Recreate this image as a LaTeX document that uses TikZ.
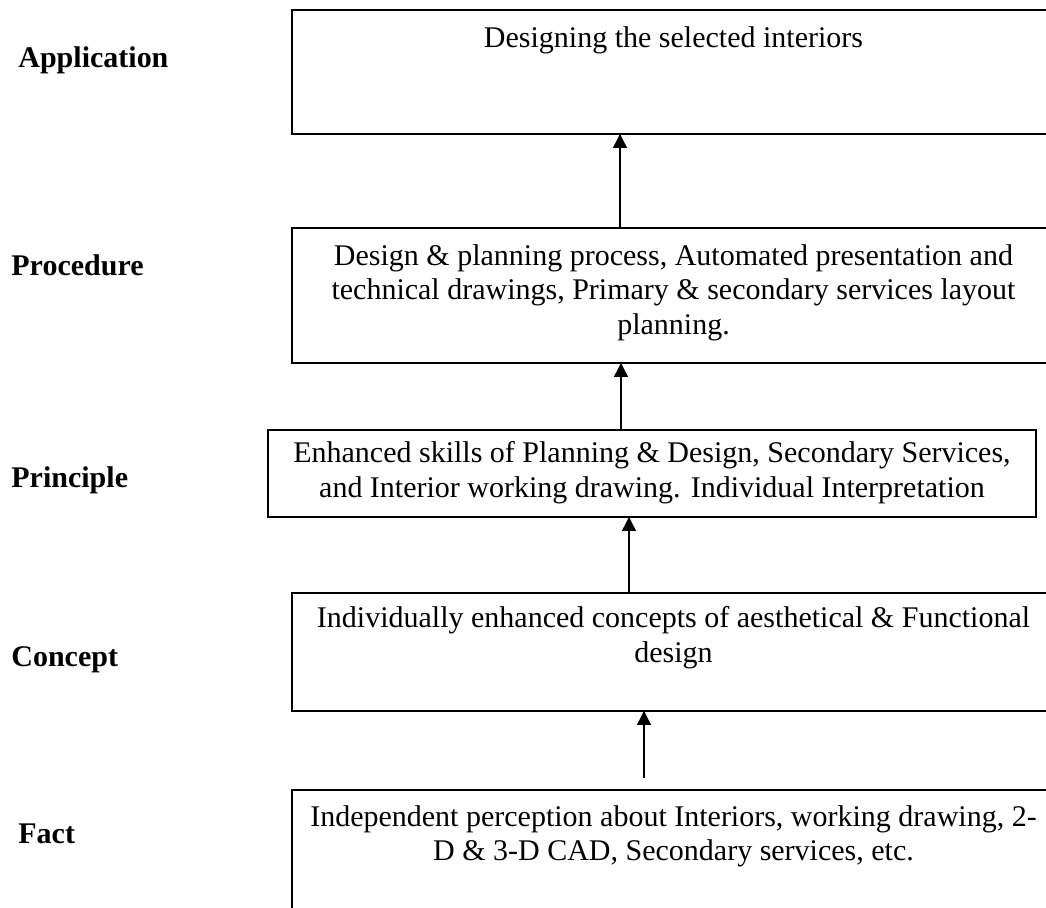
\documentclass[tikz,border=0pt]{standalone}
\usepackage{fontspec}
\setmainfont{Liberation Serif}
\usetikzlibrary{arrows.meta}
\begin{document}
\begin{tikzpicture}[x=0.5pt,y=-0.5pt,
  box/.style={draw, line width=1pt, inner sep=0pt, outer sep=0pt},
  txt/.style={font=\fontsize{15}{17.25}\selectfont, align=center, inner sep=0pt, anchor=north},
  lbl/.style={font=\fontsize{15}{17.25}\selectfont\bfseries, anchor=base west, inner sep=0pt},
  arr/.style={line width=0.7pt, -{Triangle[width=7pt,length=7pt]}}]
\clip (0,0) rectangle (1046,908);
\fill[white] (0,0) rectangle (1046,908);
% boxes
\node[box, minimum width=381.5pt, minimum height=62pt] (b1) at (673.5,72) {};
\node[box, minimum width=381.5pt, minimum height=67.5pt] (b2) at (673.5,295.5) {};
\node[box, minimum width=384pt, minimum height=43.5pt] (b3) at (652,473.5) {};
\node[box, minimum width=381.5pt, minimum height=59pt] (b4) at (673.5,652) {};
\node[box, minimum width=381.5pt, minimum height=85pt] (b5) at (673.5,875) {};
% box texts
\node[txt] (t1) at ([yshift=-8pt]b1.north) {Designing the selected interiors};
\node[txt] (t2) at ([yshift=-8pt]b2.north) {Design \& planning process, Automated presentation and\\technical drawings, Primary \& secondary services layout\\planning.};
\node[txt] (t3) at ([yshift=-5.5pt]b3.north) {Enhanced skills of Planning \& Design, Secondary Services,\\and Interior working drawing. Individual Interpretation};
\node[txt] (t4) at ([yshift=-6.5pt]b4.north) {Individually enhanced concepts of aesthetical \& Functional\\design};
\node[txt] (t5) at ([yshift=-7.5pt]b5.north) {Independent perception about Interiors, working drawing, 2-\\D \& 3-D CAD, Secondary services, etc.};
% level labels
\node[lbl] (l1) at (18,68) {Application};
\node[lbl] (l2) at (11,276) {Procedure};
\node[lbl] (l3) at (11,488) {Principle};
\node[lbl] (l4) at (11,667) {Concept};
\node[lbl] (l5) at (18,844) {Fact};
% arrows
\coordinate (xa) at (620,0);
\coordinate (xb) at (621,0);
\coordinate (xc) at (629,0);
\coordinate (d0) at (644,778);
\draw[arr] (b2.north -| xa) -- (b1.south -| xa);
\draw[arr] (b3.north -| xb) -- (b2.south -| xb);
\draw[arr] (b4.north -| xc) -- (b3.south -| xc);
\draw[arr] (d0) -- (b4.south -| d0);
\end{tikzpicture}
\end{document}
